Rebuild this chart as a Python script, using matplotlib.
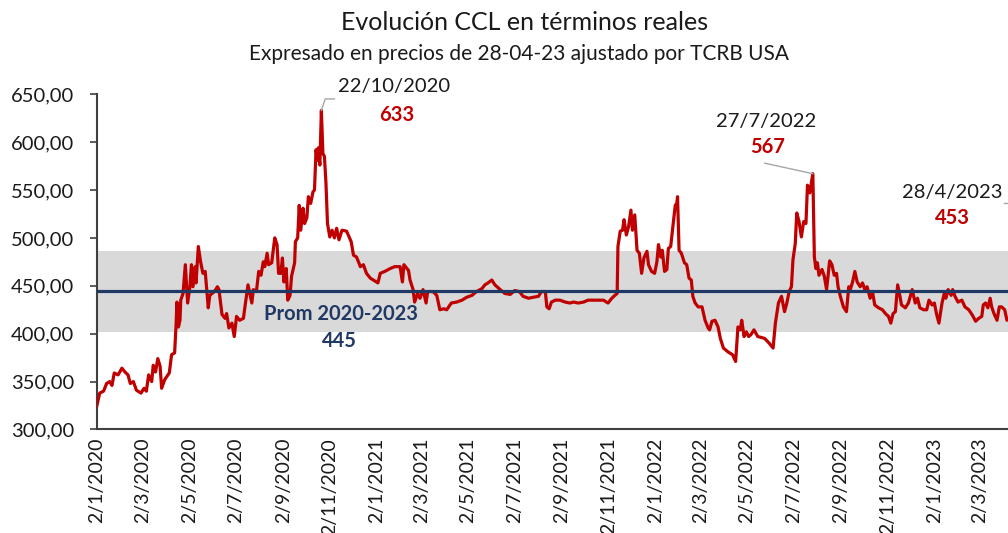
import datetime as dt
import matplotlib
matplotlib.use("Agg")
import matplotlib.pyplot as plt

plt.rcParams['font.family'] = ['Lato', 'DejaVu Sans']

# dias desde 2/1/2020 y valor del CCL real
dias = [0, 4, 9, 13, 17, 20, 23, 28, 33, 37, 41, 44, 48, 52, 58, 62, 65, 68, 72, 74,
        77, 80, 83, 85, 89, 95, 98, 102, 104, 105, 107, 109, 110, 113, 116, 119, 122, 124, 126, 129,
        130, 133, 136, 139, 142, 146, 148, 154, 158, 160, 164, 168, 170, 173, 177, 180, 183, 187, 192, 194,
        198, 203, 205, 209, 212, 215, 218, 220, 223, 225, 229, 233, 236, 238, 241, 243, 245, 248, 250, 253,
        255, 259, 260, 263, 265, 267, 270, 272, 275, 277, 280, 283, 285, 287, 289, 290, 292, 294, 296, 298,
        300, 302, 305, 308, 311, 314, 317, 321, 327, 333, 336, 340, 345, 349, 353, 358, 362, 368, 371, 377,
        384, 390, 397, 400, 402, 408, 410, 414, 416, 420, 423, 427, 431, 433, 440, 445, 449, 454, 458, 464,
        471, 478, 484, 491, 497, 504, 508, 512, 517, 521, 528, 534, 541, 547, 553, 558, 565, 571, 578, 582,
        587, 589, 592, 595, 600, 606, 613, 619, 624, 630, 637, 643, 650, 656, 663, 669, 674, 678, 681, 682,
        685, 688, 690, 693, 696, 699, 701, 704, 707, 710, 713, 716, 720, 722, 726, 730, 733, 735, 738, 740,
        743, 746, 748, 751, 754, 757, 759, 760, 762, 765, 769, 772, 775, 778, 780, 783, 787, 792, 796, 800,
        802, 805, 809, 813, 816, 820, 826, 832, 836, 839, 842, 844, 847, 850, 853, 856, 860, 865, 870, 874,
        880, 885, 888, 892, 896, 900, 903, 906, 909, 911, 914, 916, 919, 922, 925, 928, 930, 933, 937, 939,
        941, 943, 945, 949, 952, 955, 959, 962, 965, 968, 970, 973, 977, 981, 984, 986, 989, 992, 995, 999,
        1002, 1005, 1008, 1012, 1015, 1018, 1023, 1028, 1032, 1036, 1039, 1042, 1045, 1048, 1051, 1053, 1058, 1062, 1067, 1071,
        1074, 1077, 1082, 1086, 1089, 1093, 1096, 1099, 1102, 1106, 1109, 1111, 1114, 1118, 1120, 1123, 1127, 1132, 1136, 1141,
        1146, 1150, 1154, 1158, 1160, 1163, 1166, 1169, 1171, 1174, 1178, 1181, 1184, 1188, 1191, 1196, 1203, 1208, 1212]
ccl = [324, 338, 340, 348, 350, 346, 359, 357, 364, 360, 357, 348, 350, 341, 338, 343, 340, 357, 350, 367,
       360, 374, 366, 343, 352, 359, 378, 380, 411, 433, 407, 414, 435, 442, 472, 432, 449, 472, 449, 470,
       453, 491, 475, 463, 465, 427, 440, 444, 449, 446, 420, 416, 421, 406, 411, 397, 418, 414, 416, 428,
       451, 432, 446, 444, 465, 461, 475, 470, 484, 472, 474, 500, 493, 463, 463, 479, 454, 468, 435, 440,
       460, 474, 496, 500, 534, 508, 531, 515, 521, 543, 536, 548, 550, 592, 581, 594, 576, 633, 588, 585,
       557, 515, 501, 508, 500, 510, 498, 508, 507, 496, 482, 480, 470, 472, 463, 458, 456, 453, 463, 465,
       468, 470, 470, 454, 472, 466, 456, 446, 433, 442, 437, 446, 432, 444, 444, 440, 425, 426, 425, 432,
       433, 435, 438, 440, 444, 447, 451, 453, 456, 451, 446, 442, 441, 445, 444, 439, 437, 438, 439, 444,
       444, 428, 426, 433, 435, 435, 433, 432, 433, 432, 433, 435, 435, 435, 435, 432, 437, 440, 442, 491,
       507, 508, 519, 503, 512, 529, 508, 524, 487, 484, 463, 479, 486, 472, 465, 463, 475, 493, 480, 487,
       465, 467, 489, 491, 512, 534, 536, 543, 487, 484, 474, 472, 458, 456, 439, 432, 428, 428, 414, 406,
       404, 413, 414, 407, 395, 385, 381, 378, 371, 407, 404, 414, 397, 402, 397, 399, 404, 397, 396, 395,
       390, 385, 411, 432, 439, 423, 432, 444, 449, 477, 494, 526, 517, 501, 517, 515, 555, 547, 567, 480,
       468, 474, 461, 467, 460, 446, 476, 472, 461, 463, 449, 439, 428, 423, 449, 446, 454, 465, 454, 449,
       453, 446, 449, 437, 444, 430, 427, 425, 421, 418, 411, 421, 423, 451, 439, 430, 427, 432, 446, 432,
       437, 427, 425, 425, 435, 430, 432, 420, 411, 432, 442, 437, 446, 440, 446, 439, 433, 435, 428, 425,
       419, 413, 416, 418, 430, 432, 427, 437, 428, 421, 414, 428, 428, 425, 414, 418, 432, 441, 453]

promedio = 445
banda = (401.5, 486.6)
inicio = dt.date(2020, 1, 2)
fechas = [inicio + dt.timedelta(days=d) for d in dias]

rojo = "#C00000"
azul = "#1F3864"
gris = "#A6A6A6"

fig = plt.figure(figsize=(10.08, 5.33), dpi=100)
ax = fig.add_axes([0.0959, 0.1942, 0.919, 0.6291])

ax.axhspan(banda[0], banda[1], color="#D9D9D9", lw=0, zorder=1)
ax.plot(fechas, ccl, color=rojo, lw=2.3, zorder=3, solid_joinstyle="round")
ax.axhline(promedio, color=azul, lw=2.3, zorder=4)

ax.set_ylim(300, 650)
ax.set_xlim(inicio, inicio + dt.timedelta(days=1212))
ax.set_yticks(range(300, 651, 50))
ax.set_yticklabels([f"{v},00" for v in range(300, 651, 50)])

ticks = []
y, m = 2020, 1
while dt.date(y, m, 2) <= dt.date(2023, 4, 28):
    ticks.append(dt.date(y, m, 2))
    m += 2
    if m > 12:
        m -= 12
        y += 1
ax.set_xticks(ticks)
ax.set_xticklabels([f"{t.day}/{t.month}/{t.year}" for t in ticks], rotation=90, va="top", ha="center")

ax.tick_params(axis="y", labelsize=14.5, length=5, width=1.2, color="#404040", pad=11, labelcolor="#1a1a1a")
ax.tick_params(axis="x", labelsize=14, length=0, pad=6, labelcolor="#1a1a1a")
for s in ["top", "right"]:
    ax.spines[s].set_visible(False)
for s in ["left", "bottom"]:
    ax.spines[s].set_color("#404040")
    ax.spines[s].set_linewidth(1.5)

def d(n):
    return inicio + dt.timedelta(days=n)

# lineas guia de las etiquetas
ax.plot([d(294), d(299), d(311)], [633, 645, 645], color=gris, lw=1, clip_on=False, zorder=5)
ax.plot([d(937), d(874)], [567, 578], color=gris, lw=1, clip_on=False, zorder=5)
ax.plot([d(1187), d(1197), d(1212)], [536, 536, 453], color=gris, lw=1, clip_on=False, zorder=5)

ax.text(d(389), 658, "22/10/2020", ha="center", va="center", fontsize=14.5, color="#1a1a1a")
ax.text(d(392), 628, "633", ha="center", va="center", fontsize=14.5, color=rojo, fontweight="bold")
ax.text(d(876), 622, "27/7/2022", ha="center", va="center", fontsize=14.5, color="#1a1a1a")
ax.text(d(878), 595, "567", ha="center", va="center", fontsize=14.5, color=rojo, fontweight="bold")
ax.text(d(1120), 547, "28/4/2023", ha="center", va="center", fontsize=14.5, color="#1a1a1a")
ax.text(d(1120), 521, "453", ha="center", va="center", fontsize=14.5, color=rojo, fontweight="bold")
ax.text(d(320), 421, "Prom 2020-2023", ha="center", va="center", fontsize=14.5, color=azul, fontweight="bold", zorder=6)
ax.text(d(318), 392, "445", ha="center", va="center", fontsize=14.5, color=azul, fontweight="bold", zorder=6)

fig.text(525 / 1008, 1 - 23 / 533, "Evolución CCL en términos reales", ha="center", va="center", fontsize=18, color="#1a1a1a")
fig.text(519 / 1008, 1 - 54 / 533, "Expresado en precios de 28-04-23 ajustado por TCRB USA", ha="center", va="center", fontsize=15, color="#1a1a1a")

fig.savefig("out.png", dpi=100)
